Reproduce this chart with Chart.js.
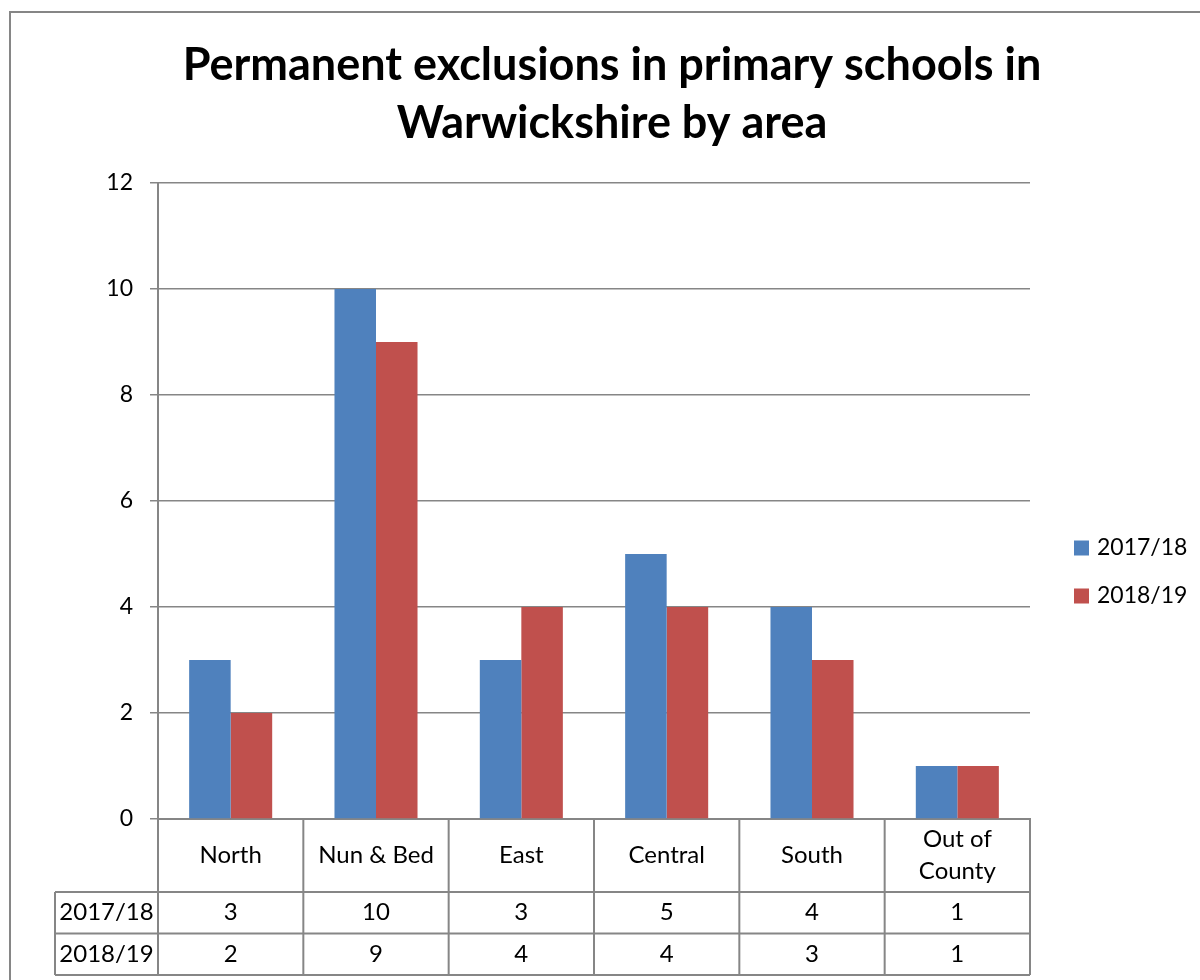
<!DOCTYPE html>
<html>
<head>
<meta charset="utf-8">
<script src="https://cdn.jsdelivr.net/npm/chart.js@4"></script>
<style>
  body { margin: 0; background: #fff; }
</style>
</head>
<body>
<canvas id="exclusionsChart" width="1200" height="980"></canvas>
<script>
// data
const areas = ['North', 'Nun & Bed', 'East', 'Central', 'South', ['Out of', 'County']]
const years = ['2017/18', '2018/19']
const exclusions1718 = [3, 10, 3, 5, 4, 1]
const exclusions1819 = [2, 9, 4, 4, 3, 1]
const titleLines = ['Permanent exclusions in primary schools in', 'Warwickshire by area']

const colors = ['#4F81BD', '#C0504D']
const lineColor = '#868686'
const fontFamily = 'Lato, "Open Sans", sans-serif'

Chart.defaults.color = '#000'
Chart.defaults.font.family = fontFamily

// title, legend, outer frame and the data table under the axis (excel style)
const excelExtras = {
    id: 'excelExtras',
    beforeDraw: chart => {
        const ctx = chart.ctx
        ctx.save()
        ctx.fillStyle = '#fff'
        ctx.fillRect(0, 0, chart.width, chart.height)
        ctx.strokeStyle = lineColor
        ctx.lineWidth = 2
        ctx.strokeRect(10, 12, chart.width, chart.height)
        ctx.restore()
    },
    afterDraw: chart => {
        const { ctx, chartArea } = chart
        const xScale = chart.scales.x
        const n = areas.length
        const step = chartArea.width / n
        const tableLeft = 55
        const headerBottom = chartArea.bottom + 73
        const rowH = 41.5

        ctx.save()

        // title
        ctx.fillStyle = '#000'
        ctx.textAlign = 'center'
        ctx.textBaseline = 'middle'
        ctx.font = 'bold 45px ' + fontFamily
        titleLines.forEach((line, i) => ctx.fillText(line, 612, 65 + i * 58))

        // table lines
        ctx.strokeStyle = lineColor
        ctx.lineWidth = 2
        ctx.beginPath()
        for (let r = 0; r < 3; r++) {
            const y = headerBottom + r * rowH
            ctx.moveTo(tableLeft, y)
            ctx.lineTo(chartArea.right, y)
        }
        ctx.moveTo(tableLeft, headerBottom)
        ctx.lineTo(tableLeft, headerBottom + 2 * rowH)
        for (let i = 0; i <= n; i++) {
            const x = chartArea.left + i * step
            ctx.moveTo(x, chartArea.bottom)
            ctx.lineTo(x, headerBottom + 2 * rowH)
        }
        ctx.stroke()

        // category names and values
        ctx.font = '24px ' + fontFamily
        ctx.fillStyle = '#000'
        const headerMid = (chartArea.bottom + headerBottom) / 2
        areas.forEach((label, i) => {
            const cx = xScale.getPixelForValue(i)
            const lines = Array.isArray(label) ? label : [label]
            lines.forEach((line, j) => {
                ctx.fillText(line, cx, headerMid + (j - (lines.length - 1) / 2) * 32)
            })
            ctx.fillText(String(exclusions1718[i]), cx, headerBottom + rowH / 2)
            ctx.fillText(String(exclusions1819[i]), cx, headerBottom + rowH * 1.5)
        })
        years.forEach((year, r) => {
            ctx.fillText(year, (tableLeft + chartArea.left) / 2, headerBottom + rowH * (r + 0.5))
        })

        // legend
        ctx.font = '23px ' + fontFamily
        ctx.textAlign = 'left'
        chart.data.datasets.forEach((ds, i) => {
            const y = 548 + i * 48
            ctx.fillStyle = ds.backgroundColor
            ctx.fillRect(1074, y - 7.5, 15, 15)
            ctx.fillStyle = '#000'
            ctx.fillText(ds.label, 1097, y)
        })

        ctx.restore()
    }
}

const renderExclusionsChart = () => {

    const data = {
        labels: areas,
        datasets: [{
            label: years[0],
            data: exclusions1718,
            backgroundColor: colors[0]
        }, {
            label: years[1],
            data: exclusions1819,
            backgroundColor: colors[1]
        }]
    }

    const options = {
        responsive: false,
        animation: false,
        layout: {
            padding: { top: 183, bottom: 161, right: 170, left: 0 }
        },
        datasets: {
            bar: { categoryPercentage: 0.5714, barPercentage: 1, borderWidth: 0 }
        },
        plugins: {
            legend: { display: false },
            title: { display: false },
            tooltip: { enabled: false }
        },
        scales: {
            x: {
                grid: { display: false },
                ticks: { display: false },
                border: { display: true, color: lineColor, width: 2 },
                afterFit: scale => { scale.height = 0 }
            },
            y: {
                min: 0,
                max: 12,
                ticks: { stepSize: 2, padding: 17, font: { size: 23 }, color: '#000' },
                grid: { color: lineColor, lineWidth: 1.5, tickLength: 8 },
                border: { display: true, color: lineColor, width: 2 },
                afterFit: scale => { scale.width = 158 }
            }
        }
    }

    new Chart('exclusionsChart', { type: 'bar', data, options, plugins: [excelExtras] })
}

renderExclusionsChart()
</script>
</body>
</html>
